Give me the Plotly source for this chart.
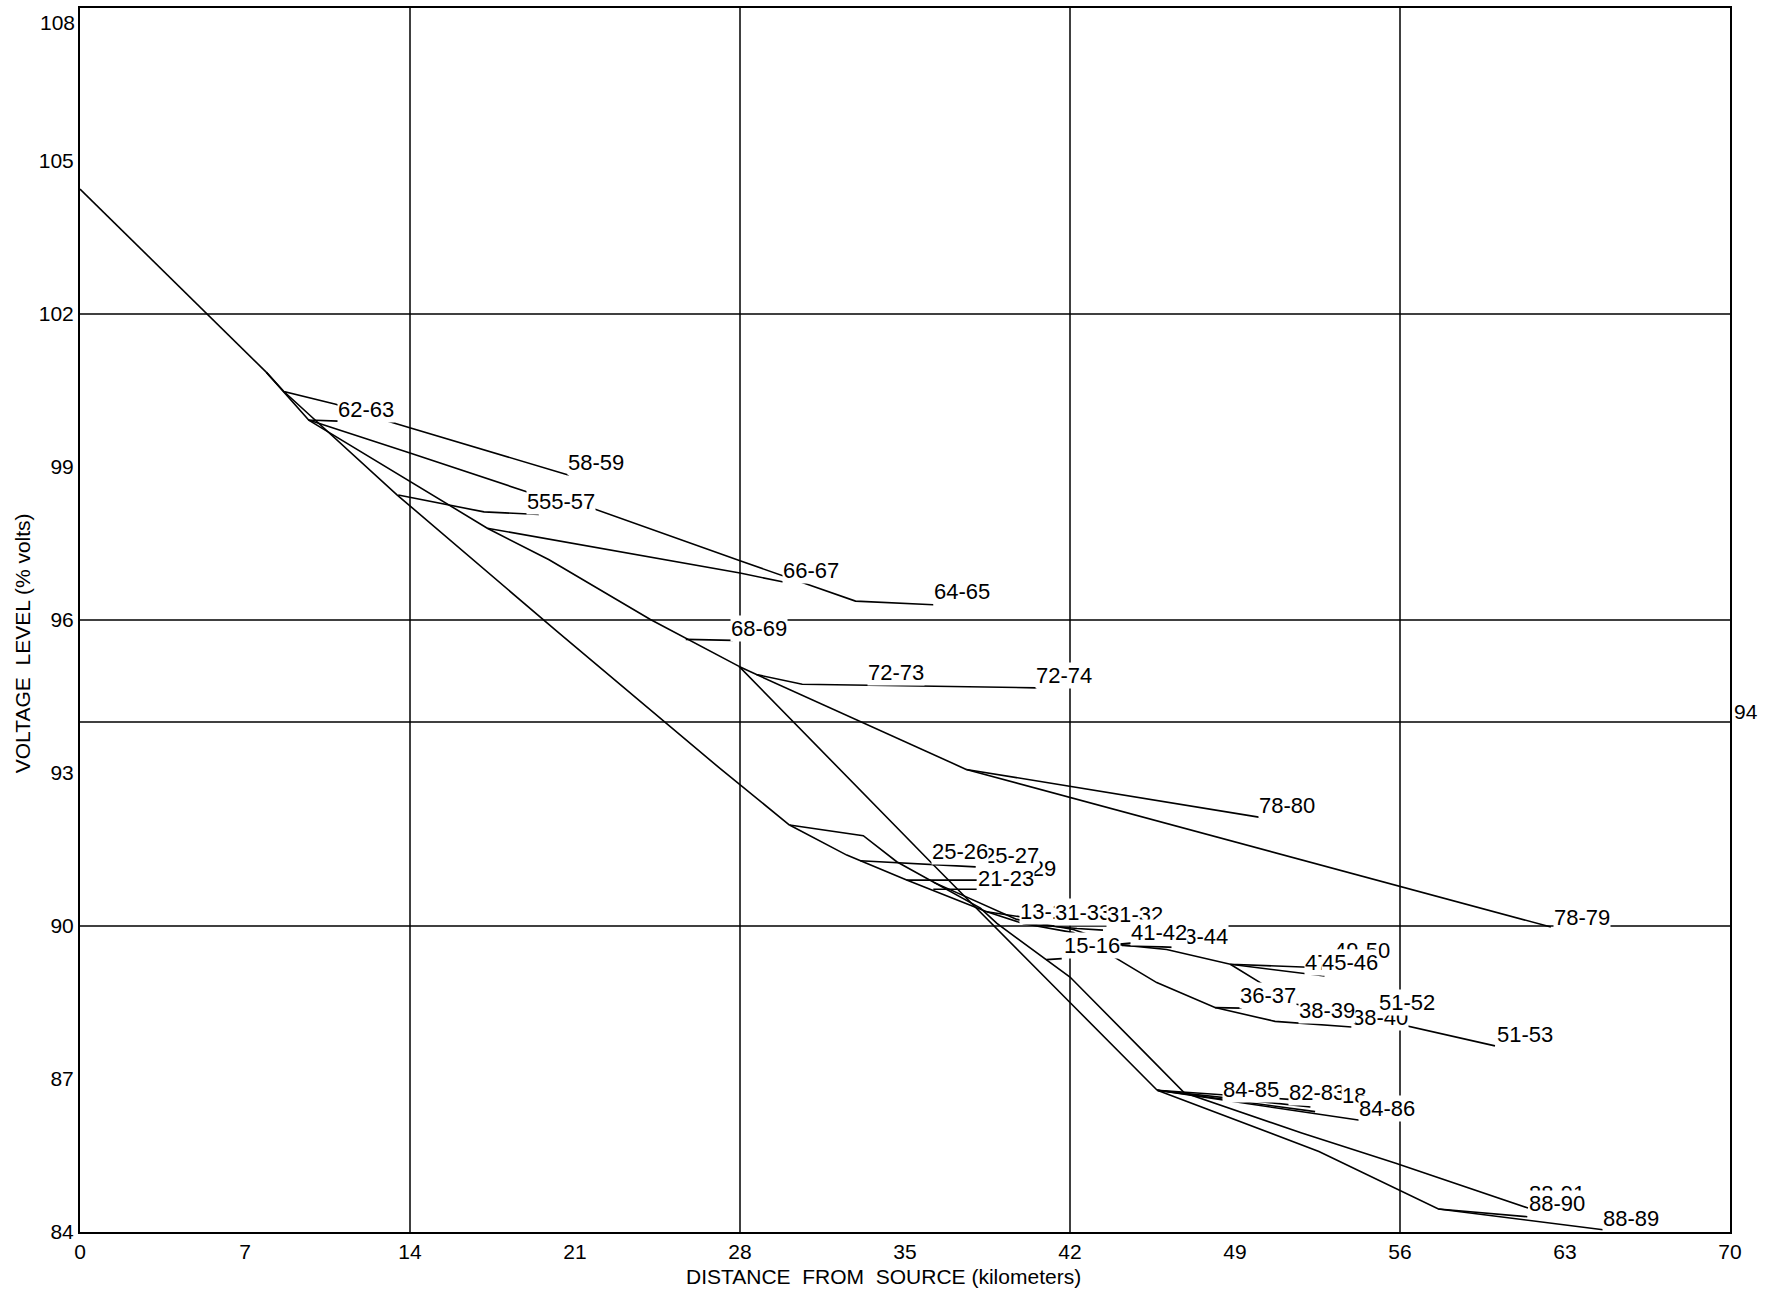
import plotly.graph_objects as go

# ---------------- data (km from source, voltage level %) ----------------
trunk_km = [0.0, 7.9]
trunk_v = [104.45, 100.86]

b5859_km = [7.9, 8.65, 10.85, 13.1, 20.75]
b5859_v = [100.86, 100.48, 100.23, 99.89, 98.84]

b6061_km = [7.9, 9.7, 10.95]
b6061_v = [100.86, 99.92, 99.9]

b6465_km = [9.7, 14.03, 18.98, 21.74, 28.0, 32.9, 36.2]
b6465_v = [99.92, 99.27, 98.51, 98.19, 97.16, 96.37, 96.3]

feedA_km = [8.65, 13.46, 20.25, 27.15, 30.1]
feedA_v = [100.48, 98.45, 95.77, 93.09, 91.98]

b5557_km = [13.5, 17.14, 19.47]
b5557_v = [98.45, 98.12, 98.07]

feedB_km = [9.7, 17.28, 19.9, 24.2, 27.96]
feedB_v = [99.92, 97.8, 97.18, 96.01, 95.09]

b6667_km = [17.28, 22.8, 28.0, 29.9]
b6667_v = [97.8, 97.34, 96.92, 96.74]

b6869_km = [25.7, 27.7]
b6869_v = [95.62, 95.6]

b7274_km = [27.96, 28.7, 30.64, 40.58]
b7274_v = [95.09, 94.93, 94.74, 94.67]

b78_km = [28.7, 37.6]
b78_v = [94.93, 93.07]

b7880_km = [37.6, 50.07]
b7880_v = [93.07, 92.13]

b7879_km = [37.6, 62.4]
b7879_v = [93.07, 89.98]

feedC_km = [27.96, 36.2, 42.0, 45.7]
feedC_v = [95.09, 91.2, 88.5, 86.78]

b8889_km = [45.7, 52.56, 57.63, 64.7]
b8889_v = [86.78, 85.58, 84.45, 84.04]

b8889s_km = [57.63, 61.4]
b8889s_v = [84.45, 84.3]

b8485_km = [45.7, 51.3]
b8485_v = [86.78, 86.6]
b8283_km = [45.7, 52.2]
b8283_v = [86.78, 86.45]
b8418_km = [45.7, 52.4]
b8418_v = [86.78, 86.36]
b8486_km = [45.7, 54.3]
b8486_v = [86.78, 86.19]

feedD_km = [30.1, 33.23, 34.65, 36.2, 38.2, 38.9, 42.0, 44.95, 46.85, 51.83, 55.82, 61.43]
feedD_v = [91.98, 91.77, 91.26, 90.86, 90.35, 90.05, 89.0, 87.62, 86.73, 85.94, 85.35, 84.47]

feedE_km = [30.1, 32.53, 35.07, 38.47, 40.0, 42.14, 45.68, 48.15, 50.7, 53.95]
feedE_v = [91.98, 91.39, 90.9, 90.28, 90.05, 89.87, 88.89, 88.4, 88.13, 88.02]

b3637_km = [48.15, 49.28]
b3637_v = [88.4, 88.39]

feedF_km = [36.2, 39.74, 42.14, 43.98, 46.1, 48.8, 52.68]
feedF_v = [90.86, 90.13, 89.93, 89.64, 89.54, 89.25, 89.18]

b4546_km = [48.8, 52.8]
b4546_v = [89.25, 89.02]

b5153_km = [48.8, 51.55, 54.2, 60.03]
b5153_v = [89.25, 88.47, 88.26, 87.65]

b4142_km = [43.98, 44.69]
b4142_v = [89.64, 89.67]

b4344_km = [44.2, 46.45]
b4344_v = [89.62, 89.58]

b2526_km = [33.1, 38.0]
b2526_v = [91.28, 91.16]

b2123_km = [35.07, 38.04]
b2123_v = [90.9, 90.9]

b2123b_km = [36.2, 38.04]
b2123b_v = [90.72, 90.72]

b1314_km = [38.47, 39.9, 42.1]
b1314_v = [90.28, 90.18, 90.05]

b3132_km = [40.0, 42.3, 43.4]
b3132_v = [90.05, 89.95, 89.92]

bstub_km = [41.0, 41.65]
bstub_v = [89.34, 89.36]

# branch labels (drawn in this order; later ones cover earlier ones)
label_text = ["62-63", "58-59", "55-56", "55-57", "66-67", "64-65", "68-69",
              "72-73", "72-74", "78-80", "78-79", "28-29", "21-23", "25-27",
              "25-26", "13-14", "31-33", "31-32", "43-44", "41-42", "15-16",
              "49-50", "47-48", "45-46", "36-37", "38-40", "38-39", "51-52",
              "51-53", "84-85", "82-83", "18", "84-86", "88-91", "88-90", "88-89"]
label_km = [12.12, 21.9, 20.14, 20.66, 31.0, 37.4, 28.8,
            34.6, 41.73, 51.2, 63.7, 40.2, 39.3, 39.5,
            37.33, 41.07, 42.57, 44.76, 47.53, 45.78, 42.92,
            54.37, 53.16, 53.88, 50.4, 55.15, 52.9, 56.3,
            61.3, 49.69, 52.46, 54.05, 55.45, 62.67, 62.67, 65.78]
label_v = [100.13, 99.08, 98.32, 98.32, 96.98, 96.56, 95.83,
           94.98, 94.91, 92.36, 90.16, 91.13, 90.93, 91.39,
           91.47, 90.28, 90.26, 90.23, 89.8, 89.87, 89.61,
           89.51, 89.28, 89.28, 88.63, 88.2, 88.34, 88.5,
           87.88, 86.8, 86.73, 86.67, 86.43, 84.75, 84.56, 84.27]

x_ticks = [0, 7, 14, 21, 28, 35, 42, 49, 56, 63, 70]
y_ticks = [84, 87, 90, 93, 96, 99, 102, 105]
y_top = 108
grid_km = [14, 28, 42, 56]
grid_v = [90, 94, 96, 102]
right_level = 94

# ---------------- figure ----------------
FONT = "Liberation Sans, Arial, sans-serif"
branches = [
    (trunk_km, trunk_v), (b5859_km, b5859_v), (b6061_km, b6061_v),
    (b6465_km, b6465_v), (feedA_km, feedA_v), (b5557_km, b5557_v),
    (feedB_km, feedB_v), (b6667_km, b6667_v), (b6869_km, b6869_v),
    (b7274_km, b7274_v), (b78_km, b78_v), (b7880_km, b7880_v),
    (b7879_km, b7879_v), (feedC_km, feedC_v), (b8889_km, b8889_v),
    (b8889s_km, b8889s_v), (b8485_km, b8485_v), (b8283_km, b8283_v),
    (b8418_km, b8418_v), (b8486_km, b8486_v), (feedD_km, feedD_v),
    (feedE_km, feedE_v), (b3637_km, b3637_v), (feedF_km, feedF_v),
    (b4546_km, b4546_v), (b5153_km, b5153_v), (b4142_km, b4142_v),
    (b4344_km, b4344_v), (b2526_km, b2526_v), (b2123_km, b2123_v),
    (b2123b_km, b2123b_v), (b1314_km, b1314_v), (b3132_km, b3132_v),
    (bstub_km, bstub_v),
]

fig = go.Figure()
for xs, ys in branches:
    fig.add_trace(go.Scatter(x=xs, y=ys, mode="lines",
                             line=dict(color="black", width=1.6),
                             showlegend=False, hoverinfo="skip"))

shapes = []
for g in grid_km:
    shapes.append(dict(type="line", xref="x", yref="paper", x0=g, x1=g, y0=0, y1=1,
                       line=dict(color="black", width=1.5), layer="below"))
for g in grid_v:
    shapes.append(dict(type="line", xref="paper", yref="y", x0=0, x1=1, y0=g, y1=g,
                       line=dict(color="black", width=1.5), layer="below"))

annotations = []
for t, xk, yv in zip(label_text, label_km, label_v):
    annotations.append(dict(x=xk, y=yv, xref="x", yref="y", text=t, showarrow=False,
                            font=dict(family=FONT, size=22, color="black"),
                            bgcolor="white", borderpad=0,
                            xanchor="center", yanchor="middle"))

annotations.append(dict(x=0, y=y_top, xref="paper", yref="y", text=str(y_top),
                        showarrow=False, xanchor="right", yanchor="middle",
                        xshift=-3, yshift=-14,
                        font=dict(family=FONT, size=21, color="black")))
annotations.append(dict(x=1, y=right_level, xref="paper", yref="y", text=str(right_level),
                        showarrow=False, xanchor="left", yanchor="middle",
                        xshift=2, yshift=11,
                        font=dict(family=FONT, size=21, color="black")))
annotations.append(dict(x=0.487, y=0, xref="paper", yref="paper",
                        text="DISTANCE\u00a0\u00a0FROM\u00a0\u00a0SOURCE (kilometers)",
                        showarrow=False, xanchor="center", yanchor="middle", yshift=-44,
                        font=dict(family=FONT, size=21, color="black")))
annotations.append(dict(x=0, y=0.481, xref="paper", yref="paper",
                        text="VOLTAGE\u00a0\u00a0LEVEL (% volts)", textangle=-90,
                        showarrow=False, xanchor="center", yanchor="middle", xshift=-58,
                        font=dict(family=FONT, size=21, color="black")))

fig.update_layout(
    width=1766, height=1291,
    margin=dict(l=80, r=36, t=6, b=59),
    paper_bgcolor="white", plot_bgcolor="white",
    shapes=shapes, annotations=annotations,
    font=dict(family=FONT, size=21, color="black"),
)
fig.update_xaxes(range=[0, 70], tickvals=x_ticks, ticktext=[str(v) for v in x_ticks],
                 showgrid=False, zeroline=False, showline=True, mirror=True,
                 linecolor="black", linewidth=2, ticks="",
                 tickfont=dict(family=FONT, size=21, color="black"))
fig.update_yaxes(range=[84, 108], tickvals=y_ticks, ticktext=[str(v) for v in y_ticks],
                 showgrid=False, zeroline=False, showline=True, mirror=True,
                 linecolor="black", linewidth=2, ticks="",
                 tickfont=dict(family=FONT, size=21, color="black"))

fig.write_html("out.html")
